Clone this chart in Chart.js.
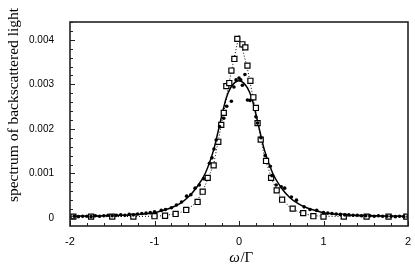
<!DOCTYPE html>
<html>
<head>
<meta charset="utf-8">
<script src="https://cdn.jsdelivr.net/npm/chart.js@4"></script>
<style>
  html, body { margin: 0; padding: 0; background: #fff; }
</style>
</head>
<body>
<canvas id="spectrumChart" width="415" height="269"></canvas>
<script>
// solid curve
var solidX = [-2, -1.8, -1.6, -1.4, -1.2, -1.0, -0.9, -0.8, -0.7, -0.6, -0.5, -0.4, -0.3, -0.25, -0.2, -0.15, -0.1, -0.05, 0,
              0.05, 0.1, 0.15, 0.2, 0.25, 0.3, 0.4, 0.5, 0.6, 0.7, 0.8, 0.9, 1.0, 1.2, 1.4, 1.6, 1.8, 2]
var solidY = [0.00004, 0.000045, 0.00005, 0.00006, 0.00008, 0.00012, 0.00017, 0.00023, 0.00032, 0.00047, 0.00069, 0.001, 0.00153, 0.00192, 0.00233, 0.0027, 0.00292, 0.00304, 0.00308,
              0.00304, 0.00292, 0.0027, 0.00233, 0.00192, 0.00153, 0.001, 0.00068, 0.00046, 0.00032, 0.00023, 0.00017, 0.00012, 0.00008, 0.00006, 0.00005, 0.000045, 0.00004]

// dotted curve
var dottedX = [-2, -1.5, -1.2, -1.0, -0.9, -0.8, -0.7, -0.6, -0.5, -0.4, -0.3, -0.2, -0.1, 0,
               0.1, 0.2, 0.3, 0.4, 0.5, 0.6, 0.7, 0.8, 0.9, 1.0, 1.2, 1.5, 2]
var dottedY = [0.00003, 0.00003, 0.000035, 0.00004, 0.00005, 0.00008, 0.00012, 0.0002, 0.00036, 0.00073, 0.0012, 0.00218, 0.0032, 0.0041,
               0.00335, 0.00238, 0.00138, 0.00081, 0.00044, 0.00024, 0.00014, 0.00008, 0.00005, 0.00004, 0.000035, 0.00003, 0.00003]

// open squares
var squareX = [-1.96, -1.75, -1.5, -1.25, -1.0, -0.875, -0.75, -0.625, -0.49, -0.43, -0.37, -0.3, -0.245, -0.21, -0.18, -0.15, -0.115, -0.09, -0.055, -0.02,
               0.04, 0.075, 0.1, 0.135, 0.17, 0.2, 0.22, 0.257, 0.32, 0.38, 0.446, 0.51, 0.635, 0.76, 0.88, 1.0, 1.24, 1.51, 1.77, 1.98]
var squareY = [0.00003, 0.00003, 0.00003, 0.00003, 0.00004, 0.00005, 0.00009, 0.00018, 0.00036, 0.00059, 0.0009, 0.00118, 0.00171, 0.00209, 0.00236, 0.00296, 0.00303, 0.00331, 0.00357, 0.00402,
               0.0039, 0.00383, 0.00342, 0.00308, 0.00271, 0.00247, 0.00213, 0.00176, 0.00128, 0.0009, 0.00062, 0.00041, 0.00021, 0.00011, 0.00004, 0.00003, 0.00003, 0.00003, 0.00003, 0.00003]

// filled dots
var dotX = [-2.0, -1.95, -1.9, -1.85, -1.8, -1.75, -1.7, -1.65, -1.6, -1.55, -1.5, -1.45, -1.4, -1.35, -1.3, -1.25, -1.2, -1.15, -1.1, -1.05,
            -1.0, -0.92, -0.87, -0.8, -0.74, -0.68, -0.62, -0.57, -0.52, -0.47, -0.42, -0.35, -0.32, -0.296, -0.27, -0.23, -0.18, -0.145, -0.09, -0.06, -0.035,
            0, 0.02, 0.04, 0.07, 0.1, 0.13, 0.2, 0.22, 0.26, 0.31, 0.37, 0.39, 0.44, 0.5, 0.54, 0.62, 0.68, 0.77, 0.84, 0.92,
            1.0, 1.05, 1.1, 1.15, 1.2, 1.25, 1.3, 1.35, 1.4, 1.45, 1.5, 1.55, 1.6, 1.65, 1.7, 1.75, 1.8, 1.85, 1.9, 1.95, 2.0]
var dotY = [0.00003, 0.00004, 0.00003, 0.00004, 0.00004, 0.00003, 0.00005, 0.00004, 0.00005, 0.00006, 0.00005, 0.00006, 0.00007, 0.00006, 0.00008, 0.00007, 0.00009, 0.0001, 0.00011, 0.00012,
            0.00014, 0.00017, 0.00019, 0.00023, 0.00029, 0.00036, 0.00049, 0.00052, 0.00067, 0.00074, 0.00088, 0.00123, 0.00135, 0.00155, 0.00175, 0.00205, 0.00224, 0.00251, 0.00262, 0.00294, 0.0031,
            0.00314, 0.0031, 0.00298, 0.00322, 0.00265, 0.00264, 0.00227, 0.00213, 0.0018, 0.0014, 0.00116, 0.00095, 0.00074, 0.0007, 0.00067, 0.00047, 0.0004, 0.00025, 0.00019, 0.00017,
            0.00012, 0.00011, 0.0001, 0.00009, 0.00008, 0.00007, 0.00007, 0.00006, 0.00006, 0.00005, 0.00005, 0.00005, 0.00004, 0.00005, 0.00004, 0.00004, 0.00004, 0.00003, 0.00004, 0.00003, 0.00003]

var xTicks = [-2, -1, 0, 1, 2]
var xTickLabels = ['-2', '-1', '0', '1', '2']
var yTicks = [0, 0.001, 0.002, 0.003, 0.004]
var yTickLabels = ['0', '0.001', '0.002', '0.003', '0.004']
var yTitle = 'spectrum of backscattered light'

function pts(xs, ys) {
    return xs.map(function (x, i) { return {x: x, y: ys[i]} })
}

// frame, inward ticks (major + minor) and the two axis titles
var frameTicks = {
    id: 'frameTicks',
    afterDraw: function (chart) {
        var c = chart.ctx, a = chart.chartArea
        var xs = chart.scales.x, ys = chart.scales.y
        c.save()
        c.strokeStyle = '#222'
        c.lineWidth = 1
        c.beginPath()
        for (var v = -2; v <= 2.0001; v += 0.2) {
            var px = Math.round(xs.getPixelForValue(v)) + 0.5
            var major = Math.abs(v - Math.round(v)) < 1e-6
            c.moveTo(px, a.bottom)
            c.lineTo(px, a.bottom - (major ? 5 : 3))
        }
        for (var w = 0; w <= 0.0044; w += 0.0002) {
            var py = Math.round(ys.getPixelForValue(w)) + 0.5
            var maj = Math.abs(w / 0.001 - Math.round(w / 0.001)) < 1e-6
            c.moveTo(a.left, py)
            c.lineTo(a.left + (maj ? 5 : 3), py)
        }
        c.stroke()
        c.lineWidth = 1.6
        c.strokeRect(a.left, a.top, a.right - a.left, a.bottom - a.top)

        // y title, rotated
        c.fillStyle = '#000'
        c.font = '15.5px "Liberation Serif", serif'
        c.textAlign = 'center'
        c.textBaseline = 'middle'
        c.save()
        c.translate(14, 105)
        c.rotate(-Math.PI / 2)
        c.fillText(yTitle, 0, 0)
        c.restore()

        // x title: italic omega, upright slash and Gamma
        var cx = (a.left + a.right) / 2 + 2, cy = 258
        c.textAlign = 'left'
        c.font = 'italic 15px "Liberation Serif", serif'
        var w1 = c.measureText('ω').width
        c.font = '15px "Liberation Serif", serif'
        var w2 = c.measureText('/Γ').width
        var x0 = cx - (w1 + w2) / 2
        c.font = 'italic 15px "Liberation Serif", serif'
        c.fillText('ω', x0, cy)
        c.font = '15px "Liberation Serif", serif'
        c.fillText('/Γ', x0 + w1 + 0.5, cy)
        c.restore()
    }
}

var ctx = document.getElementById('spectrumChart')
var chart = new Chart(ctx, {
    type: 'scatter',
    data: {
        datasets: [{
            label: 'dots',
            data: pts(dotX, dotY),
            pointStyle: 'circle',
            pointRadius: 1.8,
            backgroundColor: '#000',
            borderColor: '#000',
            borderWidth: 0,
            showLine: false,
            order: 1
        }, {
            label: 'squares',
            data: pts(squareX, squareY),
            pointStyle: 'rect',
            pointRadius: 3.6,
            backgroundColor: '#fff',
            borderColor: '#000',
            borderWidth: 1.2,
            showLine: false,
            order: 2
        }, {
            label: 'solid',
            type: 'line',
            data: pts(solidX, solidY),
            borderColor: '#000',
            borderWidth: 1.5,
            pointRadius: 0,
            cubicInterpolationMode: 'monotone',
            fill: false,
            order: 3
        }, {
            label: 'dotted',
            type: 'line',
            data: pts(dottedX, dottedY),
            borderColor: '#000',
            borderWidth: 1,
            borderDash: [1, 2],
            pointRadius: 0,
            tension: 0,
            fill: false,
            order: 4
        }]
    },
    options: {
        responsive: false,
        animation: false,
        layout: {padding: {top: 4, right: 7, left: 0, bottom: 0}},
        plugins: {legend: {display: false}, tooltip: {enabled: false}},
        scales: {
            x: {
                type: 'linear',
                min: -2,
                max: 2,
                afterBuildTicks: function (s) { s.ticks = xTicks.map(function (v) { return {value: v} }) },
                afterFit: function (s) { s.height = 43; s.paddingLeft = 0; s.paddingRight = 0 },
                grid: {display: false, drawTicks: false},
                border: {display: false},
                ticks: {
                    padding: 9,
                    color: '#000',
                    font: {family: 'Liberation Sans, Arial, sans-serif', size: 11},
                    callback: function (v, i) { return xTickLabels[i] }
                }
            },
            y: {
                type: 'linear',
                min: -0.00018,
                max: 0.0044,
                afterBuildTicks: function (s) { s.ticks = yTicks.map(function (v) { return {value: v} }) },
                afterFit: function (s) { s.width = 70 },
                grid: {display: false, drawTicks: false},
                border: {display: false},
                ticks: {
                    padding: 16,
                    color: '#000',
                    font: {family: 'Liberation Sans, Arial, sans-serif', size: 10},
                    callback: function (v, i) { return yTickLabels[i] }
                }
            }
        }
    },
    plugins: [frameTicks]
})
</script>
</body>
</html>
